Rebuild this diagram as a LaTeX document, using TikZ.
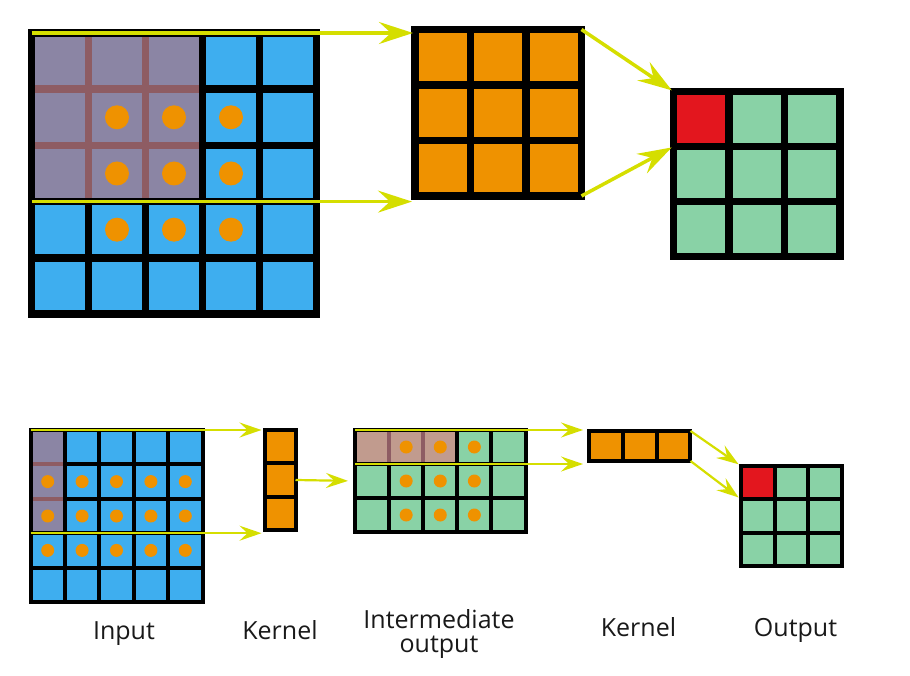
\documentclass[tikz,border=0pt]{standalone}
\usepackage{fontspec}
\setmainfont{Open Sans}
\usetikzlibrary{arrows.meta,calc}
\definecolor{cellblue}{RGB}{62,174,239}
\definecolor{cellgreen}{RGB}{137,210,166}
\definecolor{cellorange}{RGB}{239,146,0}
\definecolor{cellred}{RGB}{227,22,30}
\definecolor{shadepurple}{RGB}{139,133,164}
\definecolor{shadepink}{RGB}{193,155,142}
\definecolor{shadebrown}{RGB}{142,92,99}
\definecolor{arrowyellow}{RGB}{213,222,0}
\tikzset{
  cellbig/.style={ draw=black, line width=7.5pt, inner sep=0pt, outer sep=0pt }
}
\tikzset{
  cellsmall/.style={ draw=black, line width=4pt, inner sep=0pt, outer sep=0pt }
}
\tikzset{
  dotbig/.style={ circle, fill=cellorange, minimum size=24pt, inner sep=0pt },
  dotsmall/.style={ circle, fill=cellorange, minimum size=13pt, inner sep=0pt }
}
\tikzset{
  arrbig/.style={ draw=arrowyellow, line width=3.5pt, -{Stealth[length=34pt, width=22pt, inset=12pt]} },
  arrsmall/.style={ draw=arrowyellow, line width=2.2pt, -{Stealth[length=22pt, width=15pt, inset=8pt]} },
  lbl/.style={ font=\fontsize{25}{24}\selectfont, anchor=base, text=black!90 }
}

\begin{document}
\begin{tikzpicture}[x=1pt, y=-1pt]
        \useasboundingbox (0,0) rectangle (910,676);
        % top: input 5x5
        \foreach \r in {1,...,5}
          \foreach \c in {1,...,5}
            \node[cellbig, fill=cellblue, minimum width=57pt, minimum height=56.2pt] (in-\r-\c) at ({31.5+57*(\c-0.5)}, {33+56.2*(\r-0.5)}) {};
        \foreach \r in {1,...,3}
          \foreach \c in {1,...,3}
            \node[cellbig, fill=shadepurple, draw=shadebrown, minimum width=57pt, minimum height=56.2pt] (ov-\r-\c) at (in-\r-\c) {};
        \draw[line width=7.5pt] (in-1-1.north west) rectangle (in-3-3.south east);
        \foreach \r in {2,3,4}
          \foreach \c in {2,3,4}
            \node[dotbig] (dt-\r-\c) at (in-\r-\c) {};
        % top: kernel 3x3
        \foreach \r in {1,...,3}
          \foreach \c in {1,...,3}
            \node[cellbig, fill=cellorange, minimum size=55.5pt] (ker-\r-\c) at ({415+55.5*(\c-0.5)}, {29.5+55.5*(\r-0.5)}) {};
        % top: output 3x3
        \foreach \r in {1,...,3}
          \foreach \c in {1,...,3}
            \node[cellbig, fill=cellgreen, minimum width=55.5pt, minimum height=55pt] (out-\r-\c) at ({673.5+55.5*(\c-0.5)}, {91.5+55*(\r-0.5)}) {};
        \node[cellbig, fill=cellred, minimum width=55.5pt, minimum height=55pt] (outred) at (out-1-1) {};
        \draw[arrbig, shorten >=2pt] (in-1-1.north west) -- (in-1-1.north west -| ker-1-1.west);
        \draw[arrbig, shorten >=3pt] (in-4-1.north west) -- (in-4-1.north west -| ker-3-1.west);
        \draw[arrbig, shorten >=2pt] (ker-1-3.north east) -- (out-1-1.north west);
        \draw[arrbig, shorten >=2pt] (ker-3-3.south east) -- (out-2-1.north west);

        % bottom: input 5x5
        \foreach \r in {1,...,5}
          \foreach \c in {1,...,5}
            \node[cellsmall, fill=cellblue, minimum size=34.4pt] (bin-\r-\c) at ({30.5+34.4*(\c-0.5)}, {430+34.4*(\r-0.5)}) {};
        \foreach \r in {1,...,3}
          \node[cellsmall, fill=shadepurple, draw=shadebrown, minimum size=34.4pt] (bov-\r) at (bin-\r-1) {};
        \draw[line width=4pt] (bin-1-1.north west) rectangle (bin-3-1.south east);
        \foreach \r in {2,3,4}
          \foreach \c in {1,...,5}
            \node[dotsmall] (bdt-\r-\c) at (bin-\r-\c) {};
        % bottom: kernel 3x1
        \foreach \r in {1,...,3}
          \node[cellsmall, fill=cellorange, minimum width=31pt, minimum height=33.33pt] (kv-\r-1) at (280, {430+33.33*(\r-0.5)}) {};
        % bottom: intermediate 3x5
        \foreach \r in {1,...,3}
          \foreach \c in {1,...,5}
            \node[cellsmall, fill=cellgreen, minimum width=34.1pt, minimum height=34pt] (mid-\r-\c) at ({355+34.1*(\c-0.5)}, {430+34*(\r-0.5)}) {};
        \foreach \c in {1,...,3}
          \node[cellsmall, fill=shadepink, draw=shadebrown, minimum width=34.1pt, minimum height=34pt] (mov-\c) at (mid-1-\c) {};
        \draw[line width=4pt] (mid-1-1.north west) rectangle (mid-1-3.south east);
        \foreach \r in {1,...,3}
          \foreach \c in {2,3,4}
            \node[dotsmall] (mdt-\r-\c) at (mid-\r-\c) {};
        % bottom: kernel 1x3
        \foreach \c in {1,...,3}
          \node[cellsmall, fill=cellorange, minimum width=33.83pt, minimum height=30pt] (kh-1-\c) at ({589+33.83*(\c-0.5)}, 446) {};
        % bottom: output 3x3
        \foreach \r in {1,...,3}
          \foreach \c in {1,...,3}
            \node[cellsmall, fill=cellgreen, minimum width=33.67pt, minimum height=33.33pt] (so-\r-\c) at ({741+33.67*(\c-0.5)}, {466+33.33*(\r-0.5)}) {};
        \node[cellsmall, fill=cellred, minimum width=33.67pt, minimum height=33.33pt] (sored) at (so-1-1) {};
        \draw[arrsmall, shorten >=3pt] (bin-1-1.north west) -- (bin-1-1.north west -| kv-1-1.west);
        \draw[arrsmall, shorten >=3pt] (bin-4-1.north west) -- (bin-4-1.north west -| kv-3-1.west);
        \draw[arrsmall, shorten >=7pt] (kv-2-1.east) -- (mid-2-1.west);
        \draw[arrsmall, shorten >=6pt] (mid-1-1.north west) -- (mid-1-1.north west -| kh-1-1.west);
        \draw[arrsmall, shorten >=6pt] (mid-2-1.north west) -- (mid-2-1.north west -| kh-1-1.west);
        \draw[arrsmall, shorten >=3pt] (kh-1-3.north east) -- (so-1-1.north west);
        \draw[arrsmall, shorten >=3pt] (kh-1-3.south east) -- (so-2-1.north west);

        \node[lbl] (lin) at (124,639) {Input};
        \node[lbl] (lk1) at (280,639) {Kernel};
        \node[lbl, align=center] (lmid) at (439,652) {Intermediate\\output};
        \node[lbl] (lk2) at (638.5,636) {Kernel};
        \node[lbl] (lout) at (795.5,636) {Output};
      \end{tikzpicture}
\end{document}
